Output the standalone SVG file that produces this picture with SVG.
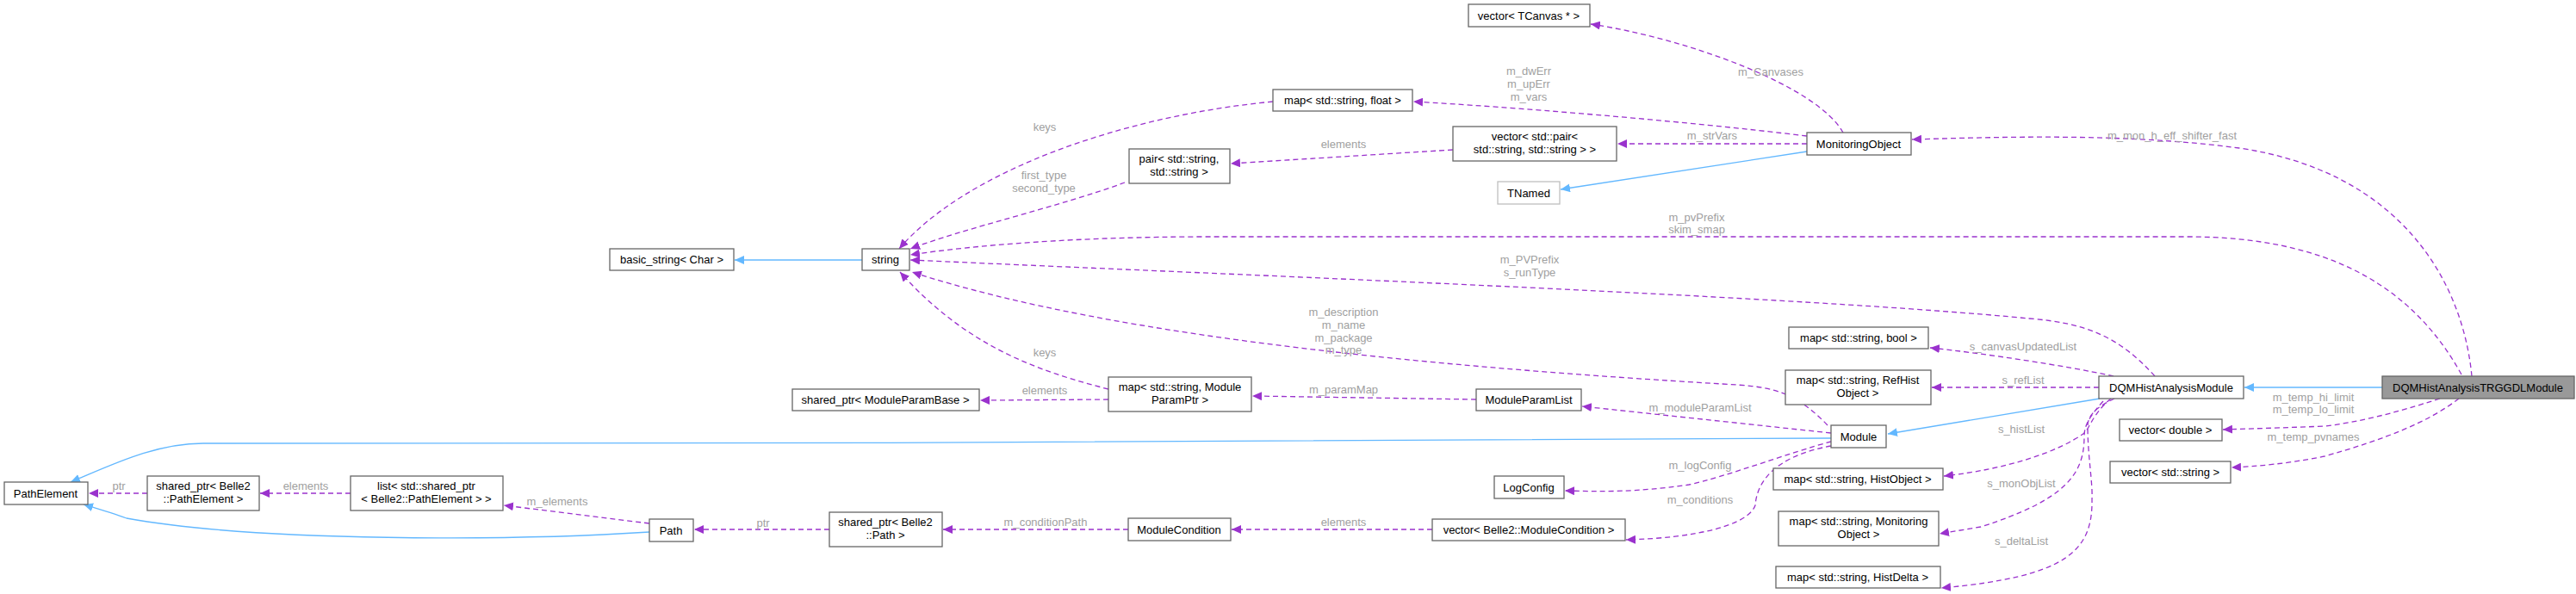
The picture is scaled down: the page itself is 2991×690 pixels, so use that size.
<svg xmlns="http://www.w3.org/2000/svg" width="2991" height="690" viewBox="0 0 2991 690">
<style>
.n rect{fill:#fff;stroke:#666;stroke-width:1.3}
.n text{font-family:"Liberation Sans",Arial,sans-serif;font-size:13px;fill:#000;text-anchor:middle}
.u{fill:none;stroke:#9a32cd;stroke-width:1.3;stroke-dasharray:6,4;marker-end:url(#ap)}
.b{fill:none;stroke:#63b8ff;stroke-width:1.3;marker-end:url(#ab)}
.l{font-family:"Liberation Sans",Arial,sans-serif;font-size:13px;fill:#a0a0a0;text-anchor:middle}
</style>
<defs>
<marker id="ap" markerUnits="userSpaceOnUse" markerWidth="12" markerHeight="10" refX="11" refY="5" orient="auto"><path d="M0,0L11,5L0,10z" fill="#9a32cd"/></marker>
<marker id="ab" markerUnits="userSpaceOnUse" markerWidth="12" markerHeight="10" refX="11" refY="5" orient="auto"><path d="M0,0L11,5L0,10z" fill="#63b8ff"/></marker>
</defs>
<rect width="2991" height="690" fill="#fff"/>
<g id="edges">
<path class="b" d="M1001,302L853,302"/>
<path class="b" d="M2098,176L1812,220"/>
<path class="b" d="M2126,509C1800,514 800,515 236,515C180,515 130,540 82,560"/>
<path class="b" d="M754,618C600,628 300,630 147,602C130,596 110,590 97,586"/>
<path class="b" d="M2438,463L2192,504"/>
<path class="b" d="M2766,450L2606,450"/>
<path class="u" d="M2140,154C2110,100 1960,45 1847,28"/>
<path class="u" d="M2098,158C1950,140 1750,124 1641,118"/>
<path class="u" d="M2098,167L1878,167"/>
<path class="u" d="M1687,174L1429,190"/>
<path class="u" d="M1478,118C1300,135 1120,200 1044,289"/>
<path class="u" d="M1306,212C1230,240 1120,265 1057,289"/>
<path class="u" d="M2858,435C2800,330 2700,275 2540,275L1400,275C1250,275 1130,285 1057,296"/>
<path class="u" d="M2502,437C2460,390 2420,375 2356,370C2100,345 1500,322 1057,302"/>
<path class="u" d="M2122,494C2080,450 2050,449 2000,446C1700,428 1300,395 1059,316"/>
<path class="u" d="M1287,452C1200,430 1120,400 1045,316"/>
<path class="u" d="M1287,464L1138,465"/>
<path class="u" d="M1714,464L1454,460"/>
<path class="u" d="M2126,503L1837,472"/>
<path class="u" d="M2126,513C2080,525 2000,555 1961,563C1900,572 1860,571 1817,570"/>
<path class="u" d="M2126,518C2060,530 2040,560 2038,587C2030,610 1970,625 1888,627"/>
<path class="u" d="M1663,615L1430,615"/>
<path class="u" d="M1310,615L1095,615"/>
<path class="u" d="M963,615L806,615"/>
<path class="u" d="M754,608L585,587"/>
<path class="u" d="M407,573L302,573"/>
<path class="u" d="M171,573L103,573"/>
<path class="u" d="M2870,437C2860,330 2790,200 2600,172C2480,156 2350,158 2220,162"/>
<path class="u" d="M2454,437C2400,425 2300,410 2241,404"/>
<path class="u" d="M2437,450L2243,450"/>
<path class="u" d="M2451,463C2430,480 2425,500 2420,503C2390,525 2330,545 2257,553"/>
<path class="u" d="M2442,466C2425,485 2420,495 2420,507C2420,550 2400,580 2300,612L2252,620"/>
<path class="u" d="M2455,463C2430,475 2424,485 2424,495C2424,530 2430,560 2429,580C2430,640 2400,670 2254,683"/>
<path class="u" d="M2833,463C2780,480 2740,490 2700,495C2650,497 2610,498 2581,499"/>
<path class="u" d="M2855,463C2820,490 2770,510 2699,530C2660,538 2620,542 2591,543"/>
</g>
<g id="labels">
<text class="l" x="2056" y="88">m_Canvases</text>
<text class="l" x="1775" y="87">m_dwErr</text>
<text class="l" x="1775" y="102">m_upErr</text>
<text class="l" x="1775" y="117">m_vars</text>
<text class="l" x="1988" y="162">m_strVars</text>
<text class="l" x="1560" y="172">elements</text>
<text class="l" x="1213" y="152">keys</text>
<text class="l" x="1212" y="208">first_type</text>
<text class="l" x="1212" y="223">second_type</text>
<text class="l" x="1970" y="257">m_pvPrefix</text>
<text class="l" x="1970" y="271">skim_smap</text>
<text class="l" x="1776" y="306">m_PVPrefix</text>
<text class="l" x="1776" y="321">s_runType</text>
<text class="l" x="1560" y="367">m_description</text>
<text class="l" x="1560" y="382">m_name</text>
<text class="l" x="1560" y="397">m_package</text>
<text class="l" x="1560" y="411">m_type</text>
<text class="l" x="1213" y="414">keys</text>
<text class="l" x="1213" y="458">elements</text>
<text class="l" x="1560" y="457">m_paramMap</text>
<text class="l" x="1974" y="478">m_moduleParamList</text>
<text class="l" x="1974" y="545">m_logConfig</text>
<text class="l" x="1974" y="585">m_conditions</text>
<text class="l" x="1560" y="611">elements</text>
<text class="l" x="1214" y="611">m_conditionPath</text>
<text class="l" x="886" y="612">ptr</text>
<text class="l" x="647" y="587">m_elements</text>
<text class="l" x="355" y="569">elements</text>
<text class="l" x="138" y="569">ptr</text>
<text class="l" x="2522" y="162">m_mon_h_eff_shifter_fast</text>
<text class="l" x="2349" y="407">s_canvasUpdatedList</text>
<text class="l" x="2349" y="446">s_refList</text>
<text class="l" x="2347" y="503">s_histList</text>
<text class="l" x="2347" y="566">s_monObjList</text>
<text class="l" x="2347" y="633">s_deltaList</text>
<text class="l" x="2686" y="466">m_temp_hi_limit</text>
<text class="l" x="2686" y="480">m_temp_lo_limit</text>
<text class="l" x="2686" y="512">m_temp_pvnames</text>
</g>
<g id="n_TRGGDL" class="n"><rect x="2766" y="437" width="223" height="26" style="fill:#999"/><text x="2877" y="455">DQMHistAnalysisTRGGDLModule</text></g>
<g id="n_DQMHist" class="n"><rect x="2437" y="437" width="168" height="26"/><text x="2521" y="455">DQMHistAnalysisModule</text></g>
<g id="n_vecdouble" class="n"><rect x="2461" y="487" width="119" height="25"/><text x="2520" y="504">vector&lt; double &gt;</text></g>
<g id="n_vecstring" class="n"><rect x="2450" y="536" width="140" height="25"/><text x="2520" y="553">vector&lt; std::string &gt;</text></g>
<g id="n_mapbool" class="n"><rect x="2077" y="380" width="162" height="25"/><text x="2158" y="397">map&lt; std::string, bool &gt;</text></g>
<g id="n_mapref" class="n"><rect x="2073" y="430" width="169" height="40"/><text x="2157" y="446">map&lt; std::string, RefHist</text><text x="2157" y="461">Object &gt;</text></g>
<g id="n_Module" class="n"><rect x="2126" y="494" width="64" height="26"/><text x="2158" y="512">Module</text></g>
<g id="n_maphist" class="n"><rect x="2059" y="544" width="197" height="25"/><text x="2157" y="561">map&lt; std::string, HistObject &gt;</text></g>
<g id="n_mapmon" class="n"><rect x="2065" y="594" width="186" height="40"/><text x="2158" y="610">map&lt; std::string, Monitoring</text><text x="2158" y="625">Object &gt;</text></g>
<g id="n_mapdelta" class="n"><rect x="2062" y="658" width="191" height="25"/><text x="2157" y="675">map&lt; std::string, HistDelta &gt;</text></g>
<g id="n_MonObj" class="n"><rect x="2098" y="154" width="121" height="26"/><text x="2158" y="172">MonitoringObject</text></g>
<g id="n_TNamed" class="n"><rect x="1739" y="211" width="72" height="26" style="stroke:#bfbfbf"/><text x="1775" y="229">TNamed</text></g>
<g id="n_TCanvas" class="n"><rect x="1705" y="5" width="141" height="26"/><text x="1775" y="23">vector&lt; TCanvas * &gt;</text></g>
<g id="n_mapfloat" class="n"><rect x="1478" y="104" width="162" height="25"/><text x="1559" y="121">map&lt; std::string, float &gt;</text></g>
<g id="n_vecpair" class="n"><rect x="1687" y="147" width="190" height="40"/><text x="1782" y="163">vector&lt; std::pair&lt;</text><text x="1782" y="178">std::string, std::string &gt; &gt;</text></g>
<g id="n_pair" class="n"><rect x="1311" y="173" width="117" height="40"/><text x="1369" y="189">pair&lt; std::string,</text><text x="1369" y="204">std::string &gt;</text></g>
<g id="n_string" class="n"><rect x="1001" y="289" width="55" height="25"/><text x="1028" y="306">string</text></g>
<g id="n_basic" class="n"><rect x="708" y="289" width="144" height="25"/><text x="780" y="306">basic_string&lt; Char &gt;</text></g>
<g id="n_ModParamBase" class="n"><rect x="920" y="452" width="217" height="25"/><text x="1028" y="469">shared_ptr&lt; ModuleParamBase &gt;</text></g>
<g id="n_mapParamPtr" class="n"><rect x="1287" y="438" width="166" height="40"/><text x="1370" y="454">map&lt; std::string, Module</text><text x="1370" y="469">ParamPtr &gt;</text></g>
<g id="n_ModParamList" class="n"><rect x="1714" y="452" width="122" height="25"/><text x="1775" y="469">ModuleParamList</text></g>
<g id="n_LogConfig" class="n"><rect x="1735" y="553" width="81" height="26"/><text x="1775" y="571">LogConfig</text></g>
<g id="n_vecModCond" class="n"><rect x="1663" y="603" width="224" height="25"/><text x="1775" y="620">vector&lt; Belle2::ModuleCondition &gt;</text></g>
<g id="n_ModCond" class="n"><rect x="1310" y="602" width="119" height="26"/><text x="1369" y="620">ModuleCondition</text></g>
<g id="n_sharedPath" class="n"><rect x="963" y="595" width="131" height="40"/><text x="1028" y="611">shared_ptr&lt; Belle2</text><text x="1028" y="626">::Path &gt;</text></g>
<g id="n_Path" class="n"><rect x="754" y="603" width="51" height="26"/><text x="779" y="621">Path</text></g>
<g id="n_list" class="n"><rect x="407" y="553" width="177" height="40"/><text x="495" y="569">list&lt; std::shared_ptr</text><text x="495" y="584">&lt; Belle2::PathElement &gt; &gt;</text></g>
<g id="n_sharedPE" class="n"><rect x="171" y="553" width="130" height="40"/><text x="236" y="569">shared_ptr&lt; Belle2</text><text x="236" y="584">::PathElement &gt;</text></g>
<g id="n_PathElement" class="n"><rect x="5" y="560" width="97" height="26"/><text x="53" y="578">PathElement</text></g>
</svg>
